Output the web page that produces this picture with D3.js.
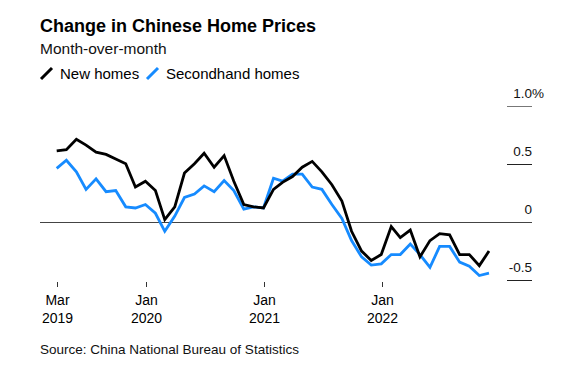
<!DOCTYPE html>
<html>
<head>
<meta charset="utf-8">
<script src="https://cdn.jsdelivr.net/npm/d3@7"></script>
<style>
  body { margin: 0; background: #fff; }
  svg { display: block; font-family: "Liberation Sans", Arial, sans-serif; }
</style>
</head>
<body>
<div class="canvas"></div>
<script>
// monthly change, Mar 2019 .. Nov 2022
const startMonth = [2019, 2];
const newHomes = [
  0.61, 0.62, 0.71, 0.66, 0.6, 0.58, 0.54, 0.5, 0.3, 0.35, 0.27, 0.02,
  0.13, 0.42, 0.5, 0.59, 0.47, 0.57, 0.35, 0.15, 0.13, 0.12, 0.28, 0.34,
  0.39, 0.47, 0.52, 0.43, 0.32, 0.18, -0.08, -0.25, -0.33, -0.28, -0.04, -0.135,
  -0.07, -0.3, -0.16, -0.1, -0.11, -0.28, -0.28, -0.375, -0.25,
];
const secondhandHomes = [
  0.46, 0.53, 0.43, 0.28, 0.37, 0.26, 0.27, 0.13, 0.12, 0.15, 0.075, -0.08,
  0.05, 0.21, 0.24, 0.31, 0.26, 0.355, 0.27, 0.11, 0.13, 0.12, 0.375, 0.35,
  0.41, 0.41, 0.3, 0.28, 0.15, 0.03, -0.16, -0.3, -0.37, -0.36, -0.28, -0.28,
  -0.19, -0.28, -0.39, -0.21, -0.21, -0.345, -0.38, -0.46, -0.44,
];
const yTicks = [-0.5, 0, 0.5, 1.0];
const xTickLabels = [["Mar", "2019"], ["Jan", "2020"], ["Jan", "2021"], ["Jan", "2022"]];

const width = 586;
const height = 369;

// points sit at the end of each month
const dates = newHomes.map((d, i) => new Date(startMonth[0], startMonth[1] + i + 1, 0));
const xTickDates = [dates[0], new Date(2020, 0, 1), new Date(2021, 0, 1), new Date(2022, 0, 1)];

const x = d3.scaleTime().domain([dates[0], dates[dates.length - 1]]).range([56.7, 489]);
const y = d3.scaleLinear().domain([-0.5, 1.0]).range([280.2, 105.5]);

const svg = d3.select(".canvas").append("svg")
  .attr("width", width)
  .attr("height", height);

// header
svg.append("text").attr("x", 40).attr("y", 31.5)
  .attr("font-size", 18).attr("font-weight", "bold").attr("fill", "#000")
  .text("Change in Chinese Home Prices");
svg.append("text").attr("x", 40).attr("y", 53.5)
  .attr("font-size", 15.5).attr("fill", "#111")
  .text("Month-over-month");

const legend = svg.append("g").attr("transform", "translate(41, 79)");
const legendItems = [
  { label: "New homes", color: "#000", x: 0 },
  { label: "Secondhand homes", color: "#168bff", x: 106 },
];
legendItems.forEach((d) => {
  legend.append("line")
    .attr("x1", d.x).attr("y1", 0).attr("x2", d.x + 11).attr("y2", -11)
    .attr("stroke", d.color).attr("stroke-width", 3);
  legend.append("text").attr("x", d.x + 19).attr("y", 0)
    .attr("font-size", 15).attr("fill", "#000")
    .text(d.label);
});

// y axis on the right: short rules with labels above
const yAxis = svg.append("g");
yTicks.forEach((t) => {
  const yy = Math.round(y(t)) + 0.5;
  if (t !== 0) {
    yAxis.append("line")
      .attr("x1", 507).attr("x2", 532).attr("y1", yy).attr("y2", yy)
      .attr("stroke", t === 1 ? "#777" : "#222").attr("stroke-width", 1);
  }
  const label = yAxis.append("text")
    .attr("x", 532).attr("y", yy - 8.5)
    .attr("text-anchor", "end")
    .attr("font-size", 13.5).attr("fill", "#111")
    .text(t === 0 ? "0" : d3.format(".1f")(t).replace("−", "-").replace(/^(-?)0\.5$/, "$10.5"));
  if (t === 1) {
    yAxis.append("text").attr("x", 532).attr("y", yy - 8.5)
      .attr("font-size", 13.5).attr("fill", "#111").text("%");
  }
});

// zero line
svg.append("line")
  .attr("x1", 40).attr("x2", 532)
  .attr("y1", Math.round(y(0)) + 0.5).attr("y2", Math.round(y(0)) + 0.5)
  .attr("stroke", "#444").attr("stroke-width", 1);

// x axis
const xAxis = svg.append("g");
xTickDates.forEach((d, i) => {
  const xx = Math.round(x(d)) + 0.5;
  xAxis.append("line")
    .attr("x1", xx).attr("x2", xx).attr("y1", 282).attr("y2", 287)
    .attr("stroke", "#333").attr("stroke-width", 1);
  const t = xAxis.append("text")
    .attr("x", xx).attr("text-anchor", "middle")
    .attr("font-size", 14).attr("fill", "#000");
  t.append("tspan").attr("x", xx).attr("y", 305).text(xTickLabels[i][0]);
  t.append("tspan").attr("x", xx).attr("y", 323).text(xTickLabels[i][1]);
});

// series
const line = d3.line()
  .x((d, i) => x(dates[i]))
  .y((d) => y(d));

svg.append("path").datum(secondhandHomes)
  .attr("d", line).attr("fill", "none")
  .attr("stroke", "#168bff").attr("stroke-width", 2.8)
  .attr("stroke-linejoin", "miter");

svg.append("path").datum(newHomes)
  .attr("d", line).attr("fill", "none")
  .attr("stroke", "#000").attr("stroke-width", 2.8)
  .attr("stroke-linejoin", "miter");

// source
svg.append("text").attr("x", 40).attr("y", 353.5)
  .attr("font-size", 13.5).attr("fill", "#111")
  .text("Source: China National Bureau of Statistics");
</script>
</body>
</html>
